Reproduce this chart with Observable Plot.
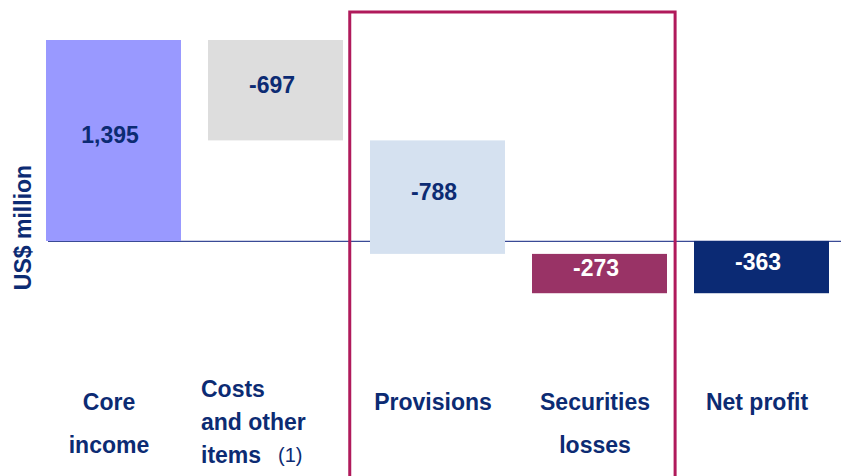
<!DOCTYPE html>
<html>
<head>
<meta charset="utf-8">
<script src="https://cdn.jsdelivr.net/npm/d3@7"></script>
<script src="https://cdn.jsdelivr.net/npm/@observablehq/plot@0.6"></script>
<style>
  html, body { margin: 0; padding: 0; background: #ffffff; }
  #chart { width: 841px; height: 476px; overflow: hidden; }
</style>
</head>
<body>
<div id="chart"></div>
<script>
// ---- data ----
const categories = ["Core income", "Costs and other items", "Provisions", "Securities losses", "Net profit"];
const values = [1395, -697, -788, -273, -363];
const isTotal = [true, false, false, false, true];
const valueLabels = ["1,395", "-697", "-788", "-273", "-363"];
const axisLabels = ["Core\nincome", "", "Provisions", "Securities\nlosses", "Net profit"];
const costsLabel = "Costs\nand other\nitems";
const footnoteMark = "(1)";
const yLabel = "US$ million";

// ---- styles ----
const NAVY = "#0C2B73";
const barColors = ["#9999FF", "#DDDDDD", "#D5E1F0", "#993366", "#0B2A74"];
const valueColors = [NAVY, NAVY, NAVY, "#FFFFFF", "#FFFFFF"];
const FONT = "'Liberation Sans', Arial, Helvetica, sans-serif";

// ---- waterfall table ----
let running = 0;
const rows = categories.map((cat, i) => {
  let start, end;
  if (isTotal[i]) { start = 0; end = values[i]; running = values[i]; }
  else { start = running; end = running + values[i]; running = end; }
  return {cat, start, end, mid: (start + end) / 2, label: valueLabels[i], fill: barColors[i], tfill: valueColors[i], axis: axisLabels[i]};
});

const chart = Plot.plot({
  width: 841,
  height: 476,
  marginLeft: 48,
  marginRight: 0,
  marginTop: 40,
  marginBottom: 140,
  style: {fontFamily: FONT, background: "#ffffff", overflow: "visible"},
  x: {type: "band", domain: categories, range: [44, 831], paddingInner: 0.164, paddingOuter: 0, axis: null},
  y: {domain: [-660, 1395], axis: null},
  color: {type: "identity"},
  marks: [
    Plot.ruleY([0], {stroke: "#3A4A96", strokeWidth: 1.2}),
    Plot.barY(rows, {x: "cat", y1: "start", y2: "end", fill: "fill"}),
    Plot.text(rows, {x: "cat", y: "mid", text: "label", fill: "tfill", fontSize: 23, fontWeight: "bold", dx: -4, dy: -5}),
    Plot.text(rows.filter(d => d.axis), {x: "cat", text: "axis", frameAnchor: "bottom", lineAnchor: "top", textAnchor: "middle", dx: -5, dy: 43, lineHeight: 1.87, fill: NAVY, fontSize: 23, fontWeight: "bold"}),
    Plot.text([costsLabel], {x: () => categories[1], text: d => d, frameAnchor: "bottom", lineAnchor: "top", textAnchor: "start", dx: -75, dy: 37, lineHeight: 1.43, fill: NAVY, fontSize: 23, fontWeight: "bold"}),
    Plot.text([footnoteMark], {x: () => categories[1], text: d => d, frameAnchor: "bottom", lineAnchor: "top", textAnchor: "start", dx: 2, dy: 111, fill: NAVY, fontSize: 20}),
    Plot.text([yLabel], {text: d => d, frameAnchor: "left", textAnchor: "middle", lineAnchor: "middle", rotate: -90, dx: -25, dy: 39, fill: NAVY, fontSize: 23, fontWeight: "bold"})
  ]
});

// highlight box around Provisions & Securities losses, positioned from the x scale
const xs = chart.scale("x");
const bw = xs.bandwidth, gap = xs.step - xs.bandwidth;
const bx0 = xs.apply(categories[2]) - gap * 0.75;
const bx1 = xs.apply(categories[3]) + bw + gap * 0.3;
d3.select(chart).append("rect")
  .attr("x", bx0).attr("y", 12)
  .attr("width", bx1 - bx0).attr("height", 480)
  .attr("fill", "none").attr("stroke", "#B01A5B").attr("stroke-width", 3);

document.getElementById("chart").appendChild(chart);
</script>
</body>
</html>
